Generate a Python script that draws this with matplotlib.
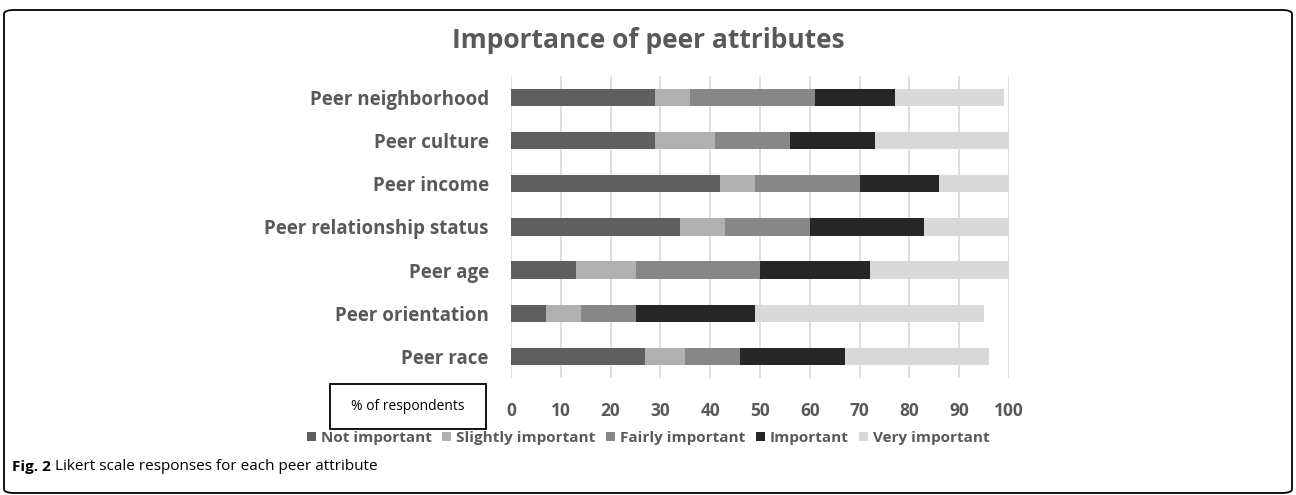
import numpy as np
import matplotlib.pyplot as plt
from matplotlib.patches import FancyBboxPatch, Rectangle

plt.rcParams['font.family'] = ['Open Sans', 'DejaVu Sans']

# attributes, listed bottom to top as drawn
attributes = ["Peer race", "Peer orientation", "Peer age",
              "Peer relationship status", "Peer income",
              "Peer culture", "Peer neighborhood"]

# % of respondents per response level
not_important      = [27, 7, 13, 34, 42, 29, 29]
slightly_important = [8, 7, 12, 9, 7, 12, 7]
fairly_important   = [11, 11, 25, 17, 21, 15, 25]
important          = [21, 24, 22, 23, 16, 17, 16]
very_important     = [29, 46, 28, 17, 14, 27, 22]

levels = ["Not important", "Slightly important", "Fairly important",
          "Important", "Very important"]
series = [not_important, slightly_important, fairly_important,
          important, very_important]
colors = ["#5f5f5f", "#b0b0b0", "#878787", "#262626", "#d9d9d9"]

label_grey = "#595959"

fig = plt.figure(figsize=(12.96, 4.95), dpi=100)
ax = fig.add_axes([0.3943, 0.2364, 0.3843, 0.6101])

y = np.arange(len(attributes))
left = np.zeros(len(attributes))
handles = []
for vals, col, name in zip(series, colors, levels):
    vals = np.array(vals, dtype=float)
    b = ax.barh(y, vals, left=left, height=0.4, color=col, label=name, zorder=3)
    handles.append(b)
    left += vals

ax.set_xlim(0, 100)
ax.set_ylim(-0.5, len(attributes) - 0.5)
ax.set_xticks(np.arange(0, 101, 10))
ax.set_yticks(y)
ax.set_yticklabels(attributes)
ax.xaxis.grid(True, color="#d9d9d9", linewidth=1.2, zorder=0)
ax.set_axisbelow(True)
for s in ax.spines.values():
    s.set_visible(False)
ax.tick_params(axis="both", length=0, labelcolor=label_grey)
ax.tick_params(axis="x", pad=17, labelsize=12.5)
ax.tick_params(axis="y", pad=16, labelsize=13.5)
for lbl in ax.get_xticklabels() + ax.get_yticklabels():
    lbl.set_fontweight("bold")

# title
fig.text(0.5, 0.918, "Importance of peer attributes", ha="center", va="center",
         fontsize=19, fontweight="bold", color=label_grey)

# boxed axis caption
box_l, box_b = 330 / 1296, 1 - 429 / 495
box_w, box_h = 156 / 1296, 45 / 495
fig.patches.append(Rectangle((box_l, box_b), box_w, box_h, transform=fig.transFigure,
                             fill=False, edgecolor="black", linewidth=1.3))
fig.text(box_l + box_w / 2, box_b + box_h / 2, "% of respondents", ha="center",
         va="center", fontsize=10, color="black")

# legend
leg = fig.legend(handles=handles, labels=levels, loc="center", ncol=5,
                 bbox_to_anchor=(0.5, 1 - 438 / 495), frameon=False,
                 handlelength=0.6, handleheight=0.6, handletextpad=0.3,
                 columnspacing=0.7, prop={"weight": "bold", "size": 11})
for t in leg.get_texts():
    t.set_color(label_grey)

# figure caption
cap = fig.text(12 / 1296, 1 - 467 / 495, "Fig. 2", ha="left", va="center",
               fontsize=11, fontweight="bold", color="black")
fig.canvas.draw()
bb = cap.get_window_extent()
fig.text((bb.x1 + 4) / 1296, 1 - 467 / 495, "Likert scale responses for each peer attribute",
         ha="left", va="center", fontsize=11, color="black")

# rounded frame around the whole figure
fig.patches.append(FancyBboxPatch((4 / 1296, 2 / 495), 1288 / 1296, 483 / 495,
                                  boxstyle="round,pad=0,rounding_size=0.008",
                                  transform=fig.transFigure, fill=False,
                                  edgecolor="black", linewidth=1.3))

fig.savefig("out.png", dpi=100)
